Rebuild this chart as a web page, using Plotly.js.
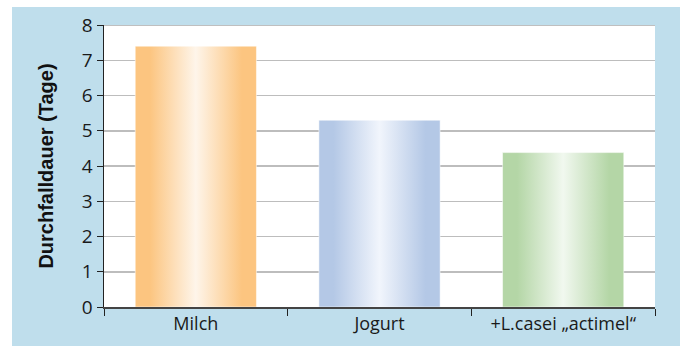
<!DOCTYPE html>
<html><head><meta charset="utf-8">
<script src="https://cdn.plot.ly/plotly-3.0.1.min.js"></script>
<style>
html,body{margin:0;padding:0;background:#fff;width:680px;height:346px;overflow:hidden}
#wrap{position:absolute;left:12px;top:7px;width:668px;height:339px;background:#BFDEEC}
#chart{width:668px;height:339px}
</style></head><body>
<div id="wrap"><div id="chart"></div></div>
<script>
const categories = ['Milch', 'Jogurt', '+L.casei „actimel“'];
const values = [7.4, 5.3, 4.38];
const edgeColors = ['#FCC580', '#B4C8E6', '#B4D6A6'];
const midColors = ['#FEF5EA', '#F1F5FC', '#F1F8EF'];
const yTicks = [0,1,2,3,4,5,6,7,8];
const barWidth = 0.66;

const traces = [{
  type: 'bar', x: categories, y: values, width: barWidth,
  marker: {color: 'rgba(0,0,0,0)'}, hoverinfo: 'skip', showlegend: false
}];
categories.forEach((c, i) => {
  const x0 = i - barWidth/2, x1 = i + barWidth/2;
  traces.push({
    type: 'scatter', xaxis: 'x2', yaxis: 'y', mode: 'lines',
    x: [x0, x1, x1, x0, x0], y: [0, 0, values[i], values[i], 0],
    fill: 'toself',
    line: {color: 'rgba(255,255,255,0.5)', width: 1},
    fillgradient: {type: 'horizontal', colorscale: [
      [0, edgeColors[i]], [0.12, edgeColors[i]], [0.5, midColors[i]], [0.88, edgeColors[i]], [1, edgeColors[i]]
    ]},
    showlegend: false, hoverinfo: 'skip'
  });
});

const layout = {
  width: 668, height: 339,
  paper_bgcolor: '#BFDEEC', plot_bgcolor: '#ffffff',
  margin: {l: 92, r: 25, t: 18, b: 39},
  showlegend: false,
  font: {family: '"Open Sans", "Noto Sans", sans-serif', color: '#1a1a1a', size: 16},
  xaxis: {
    type: 'category', tickson: 'boundaries', ticks: 'outside', ticklen: 7, tickcolor: '#222',
    showline: true, linecolor: '#444', linewidth: 1.5, showgrid: false, zeroline: false,
    tickfont: {size: 18, family: '"Open Sans", sans-serif', color: '#1a1a1a'},
    range: [-0.5, 2.5], fixedrange: true
  },
  xaxis2: {overlaying: 'x', range: [-0.5, 2.5], visible: false, fixedrange: true},
  yaxis: {
    range: [0, 8], tickvals: yTicks, ticks: 'outside', ticklen: 6, tickcolor: '#222',
    showline: true, linecolor: '#222', linewidth: 1.5,
    showgrid: true, gridcolor: '#BDBDBD', gridwidth: 1.5, zeroline: false,
    tickfont: {size: 19, family: '"Open Sans", sans-serif', color: '#1a1a1a'},
    title: {text: 'Durchfalldauer (Tage)', font: {family: '"Liberation Sans", Arial, sans-serif', size: 20, weight: 'bold', color: '#111'}, standoff: 23},
    fixedrange: true
  },
  shapes: [{type: 'line', xref: 'paper', yref: 'y', x0: 0, x1: 1, y0: 8, y1: 8, line: {color: '#AAAAAA', width: 1.5}}]
};
Plotly.newPlot('chart', traces, layout, {displayModeBar: false, staticPlot: true});
</script></body></html>
